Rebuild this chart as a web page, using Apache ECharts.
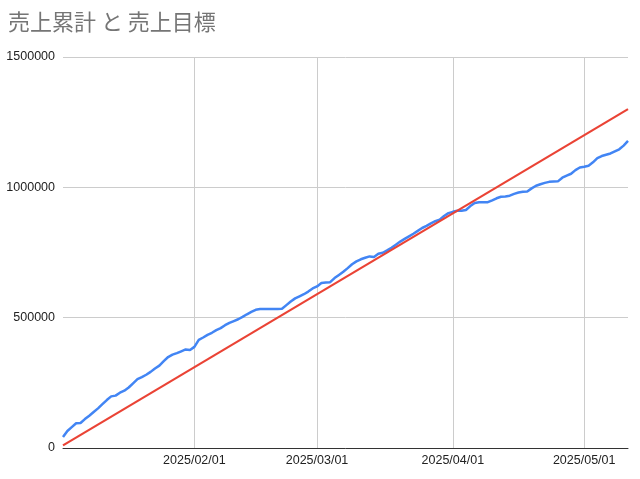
<!DOCTYPE html>
<html lang="ja">
<head>
<meta charset="UTF-8">
<title>売上累計 と 売上目標</title>
<script src="https://cdn.jsdelivr.net/npm/echarts@6/dist/echarts.min.js"></script>
<style>
  html, body { margin: 0; padding: 0; background: #fff; }
  #chart { width: 640px; height: 479px; }
</style>
</head>
<body>
<div id="chart"></div>
<script>
// 日付の範囲 (1日ごと)
const startDate = '2025/01/02';
const endDate = '2025/05/11';

// 売上累計 (日次, startDate から順に)
const salesTotal = [
  42000, 65000, 80000, 95000, 96000, 111000, 124000, 138000, 152000, 168000,
  184000, 198000, 201000, 212000, 220000, 232000, 248000, 264000, 272000, 281000,
  292000, 305000, 316000, 333000, 349000, 358000, 364000, 371000, 378000, 376000,
  388000, 415000, 424000, 434000, 442000, 452000, 460000, 471000, 480000, 487000,
  494000, 503000, 513000, 522000, 530000, 533000, 533000, 533000, 533000, 533000,
  534000, 548000, 562000, 574000, 582000, 590000, 600000, 612000, 620000, 633000,
  635000, 636000, 652000, 664000, 676000, 690000, 705000, 716000, 724000, 730000,
  735000, 733000, 745000, 749000, 758000, 768000, 780000, 792000, 802000, 812000,
  822000, 833000, 844000, 852000, 862000, 870000, 876000, 890000, 901000, 906000,
  910000, 910000, 913000, 928000, 940000, 943000, 943000, 943000, 950000, 958000,
  964000, 965000, 968000, 975000, 980000, 983000, 984000, 996000, 1006000, 1012000,
  1017000, 1021000, 1022000, 1023000, 1037000, 1045000, 1052000, 1066000, 1076000, 1079000,
  1083000, 1096000, 1112000, 1120000, 1125000, 1130000, 1138000, 1146000, 1160000, 1178000
];

// 売上目標 (直線: 始点と終点)
const targetDates = ['2025/01/02', '2025/05/11'];
const targetValues = [10000, 1300000];

// y軸の目盛り
const yTicks = [0, 500000, 1000000, 1500000];

// 日付カテゴリを作る
function pad(n) { return n < 10 ? '0' + n : '' + n; }
function buildDates(from, to) {
  let list = [];
  let d = new Date(from.replace(/\//g, '-') + 'T00:00:00');
  let last = new Date(to.replace(/\//g, '-') + 'T00:00:00');
  while (d <= last) {
    list.push(d.getFullYear() + '/' + pad(d.getMonth() + 1) + '/' + pad(d.getDate()));
    d.setDate(d.getDate() + 1);
  }
  return list;
}
const dates = buildDates(startDate, endDate);

// 月初だけ表示
function isMonthStart(index, value) {
  return dates[index].slice(-3) === '/01';
}

let myChart = echarts.init(document.getElementById('chart'));

let option = {
  animation: false,
  title: {
    text: '売上累計 と 売上目標',
    left: 3,
    top: 6,
    textStyle: {
      fontFamily: 'Noto Sans CJK JP',
      fontSize: 22,
      fontWeight: 'normal',
      color: '#757575'
    }
  },
  grid: {
    left: 63,
    right: 12,
    top: 57,
    bottom: 31
  },
  xAxis: {
    type: 'category',
    data: dates,
    boundaryGap: false,
    axisLine: { lineStyle: { color: '#333', width: 1 } },
    axisTick: { show: false },
    axisLabel: {
      interval: isMonthStart,
      margin: 6,
      fontFamily: 'Liberation Sans',
      fontSize: 12.5,
      color: '#222'
    },
    splitLine: {
      show: true,
      interval: isMonthStart,
      lineStyle: { color: '#cccccc', width: 1 }
    }
  },
  yAxis: {
    type: 'value',
    min: yTicks[0],
    max: yTicks[yTicks.length - 1],
    interval: yTicks[1] - yTicks[0],
    axisLine: { show: false },
    axisTick: { show: false },
    axisLabel: {
      margin: 8,
      fontFamily: 'Liberation Sans',
      fontSize: 12.5,
      color: '#222',
      formatter: function (v) { return String(v); }
    },
    splitLine: { lineStyle: { color: '#cccccc', width: 1 } }
  },
  series: [
    {
      name: '売上累計',
      type: 'line',
      data: salesTotal,
      showSymbol: false,
      lineStyle: { color: '#4285F4', width: 2.5 },
      itemStyle: { color: '#4285F4' },
      z: 3
    },
    {
      name: '売上目標',
      type: 'line',
      data: targetDates.map((d, i) => [d, targetValues[i]]),
      showSymbol: false,
      lineStyle: { color: '#EA4335', width: 2.2 },
      itemStyle: { color: '#EA4335' },
      z: 4
    }
  ]
};

myChart.setOption(option);
</script>
</body>
</html>
